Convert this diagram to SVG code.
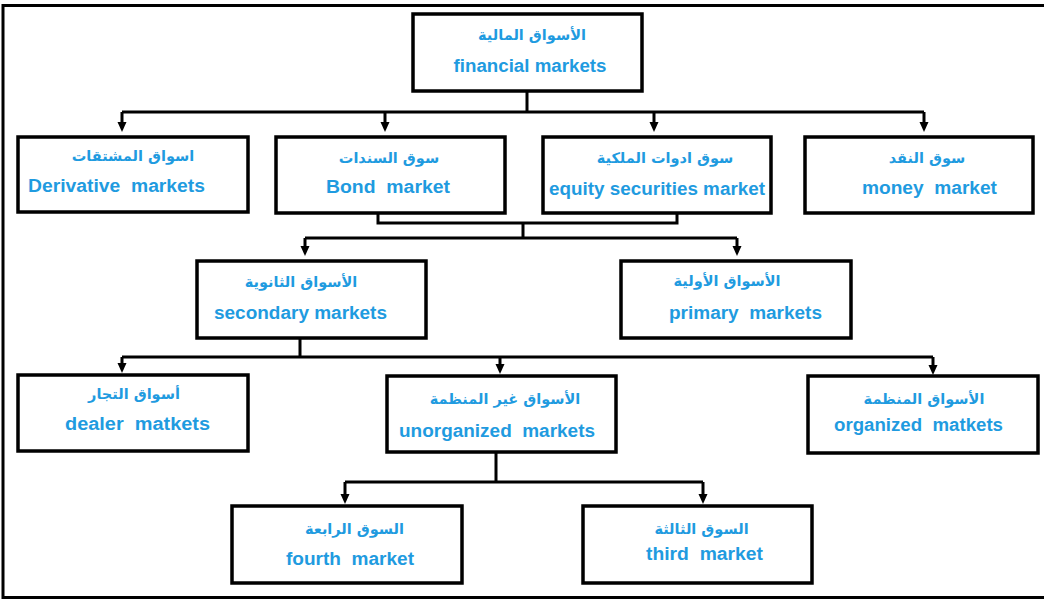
<svg xmlns="http://www.w3.org/2000/svg" width="1044" height="599" viewBox="0 0 1044 599">
<defs>
<style>
.box{fill:#fff;stroke:#000;stroke-width:3.5}
.ln{fill:none;stroke:#000;stroke-width:3;stroke-linejoin:miter}
.en{font-family:"Liberation Sans",Arial,sans-serif;font-weight:bold;font-size:18px;fill:#1f9be0;text-anchor:middle}
.ar{font-family:"DejaVu Sans","Noto Sans",sans-serif;font-weight:bold;font-size:14.5px;fill:#1f9be0;text-anchor:middle}
</style>
<marker id="ah" viewBox="0 0 10 10" refX="0" refY="5" markerWidth="10" markerHeight="10" markerUnits="userSpaceOnUse" orient="auto">
<path d="M0,0.5 L10,5 L0,9.5 Z" fill="#000"/>
</marker>
</defs>
<rect x="0" y="0" width="1044" height="599" fill="#fff"/>
<path d="M3,599 V5.5 H1044 M3,597.5 H1044" fill="none" stroke="#000" stroke-width="3"/>

<g id="connectors">
<path class="ln" d="M527,91 V112 M122,112 H924"/>
<path class="ln" d="M122,112 V122" marker-end="url(#ah)"/>
<path class="ln" d="M385,112 V122" marker-end="url(#ah)"/>
<path class="ln" d="M654,112 V122" marker-end="url(#ah)"/>
<path class="ln" d="M924,112 V122" marker-end="url(#ah)"/>
<path class="ln" d="M378,213 V223 H677 V213 M523,223 V238 M305,238 H737"/>
<path class="ln" d="M305,238 V246" marker-end="url(#ah)"/>
<path class="ln" d="M737,238 V246" marker-end="url(#ah)"/>
<path class="ln" d="M300,338 V357 M122,357 H933"/>
<path class="ln" d="M122,357 V363" marker-end="url(#ah)"/>
<path class="ln" d="M500,357 V364" marker-end="url(#ah)"/>
<path class="ln" d="M933,357 V365" marker-end="url(#ah)"/>
<path class="ln" d="M496,452 V482 M345,482 H703"/>
<path class="ln" d="M345,482 V494" marker-end="url(#ah)"/>
<path class="ln" d="M703,482 V494" marker-end="url(#ah)"/>
</g>

<g id="financial">
<rect class="box" x="413" y="14" width="229" height="77"/>
<text class="ar" x="532" y="40">الأسواق المالية</text>
<text class="en" x="530" y="72" textLength="153" lengthAdjust="spacingAndGlyphs">financial markets</text>
</g>

<g id="derivative">
<rect class="box" x="18" y="137" width="230" height="75"/>
<text class="ar" x="133" y="161">اسواق المشتقات</text>
<text class="en" x="116.5" y="192" textLength="177" lengthAdjust="spacingAndGlyphs" xml:space="preserve">Derivative  markets</text>
</g>

<g id="bond">
<rect class="box" x="276" y="137" width="229" height="76"/>
<text class="ar" x="389" y="163">سوق السندات</text>
<text class="en" x="388" y="193" textLength="124" lengthAdjust="spacingAndGlyphs" xml:space="preserve">Bond  market</text>
</g>

<g id="equity">
<rect class="box" x="543" y="137" width="228" height="76"/>
<text class="ar" x="665" y="163">سوق ادوات الملكية</text>
<text class="en" x="657" y="195" textLength="216" lengthAdjust="spacingAndGlyphs">equity securities market</text>
</g>

<g id="money">
<rect class="box" x="805" y="137" width="228" height="76"/>
<text class="ar" x="927" y="163">سوق النقد</text>
<text class="en" x="929.5" y="194" textLength="135" lengthAdjust="spacingAndGlyphs" xml:space="preserve">money  market</text>
</g>

<g id="secondary">
<rect class="box" x="197" y="261" width="229" height="77"/>
<text class="ar" x="301" y="287">الأسواق الثانوية</text>
<text class="en" x="300.5" y="319" textLength="173" lengthAdjust="spacingAndGlyphs">secondary markets</text>
</g>

<g id="primary">
<rect class="box" x="621" y="261" width="230" height="77"/>
<text class="ar" x="727" y="286">الأسواق الأولية</text>
<text class="en" x="745.5" y="319" textLength="153" lengthAdjust="spacingAndGlyphs" xml:space="preserve">primary  markets</text>
</g>

<g id="dealer">
<rect class="box" x="18" y="375" width="230" height="76"/>
<text class="ar" x="134" y="399">أسواق التجار</text>
<text class="en" x="137.5" y="430" textLength="145" lengthAdjust="spacingAndGlyphs" xml:space="preserve">dealer  matkets</text>
</g>

<g id="unorganized">
<rect class="box" x="387" y="376" width="229" height="76"/>
<text class="ar" x="505" y="404">الأسواق غير المنظمة</text>
<text class="en" x="497" y="437" textLength="196" lengthAdjust="spacingAndGlyphs" xml:space="preserve">unorganized  markets</text>
</g>

<g id="organized">
<rect class="box" x="808" y="376" width="230" height="77"/>
<text class="ar" x="924" y="404">الأسواق المنظمة</text>
<text class="en" x="918.5" y="431" textLength="169" lengthAdjust="spacingAndGlyphs" xml:space="preserve">organized  matkets</text>
</g>

<g id="fourth">
<rect class="box" x="232" y="506" width="230" height="77"/>
<text class="ar" x="354.5" y="534">السوق الرابعة</text>
<text class="en" x="350" y="565" textLength="128" lengthAdjust="spacingAndGlyphs" xml:space="preserve">fourth  market</text>
</g>

<g id="third">
<rect class="box" x="583" y="506" width="229" height="77"/>
<text class="ar" x="701.5" y="534">السوق الثالثة</text>
<text class="en" x="704.5" y="560" textLength="117" lengthAdjust="spacingAndGlyphs" xml:space="preserve">third  market</text>
</g>
</svg>
